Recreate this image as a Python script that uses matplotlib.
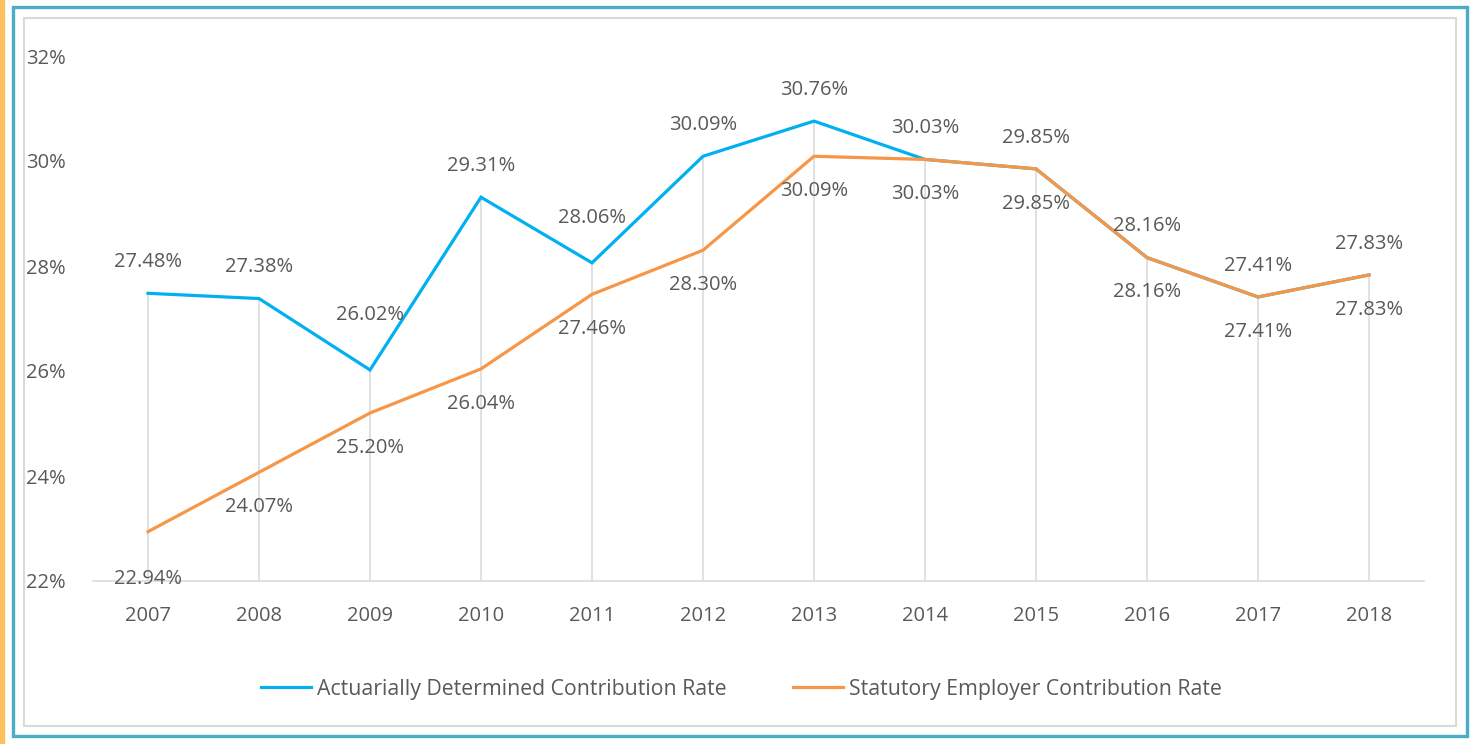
import matplotlib.pyplot as plt
from matplotlib.patches import Rectangle
from matplotlib.lines import Line2D

plt.rcParams['font.family'] = ['Open Sans', 'DejaVu Sans']

years = ["2007", "2008", "2009", "2010", "2011", "2012", "2013", "2014", "2015", "2016", "2017", "2018"]
actuarial = [27.48, 27.38, 26.02, 29.31, 28.06, 30.09, 30.76, 30.03, 29.85, 28.16, 27.41, 27.83]
statutory = [22.94, 24.07, 25.20, 26.04, 27.46, 28.30, 30.09, 30.03, 29.85, 28.16, 27.41, 27.83]
y_ticks = [22, 24, 26, 28, 30, 32]

BLUE = "#00B0F0"
ORANGE = "#F79646"
TEXT = "#595959"
GRID = "#D9D9D9"
W, H = 1483, 744
FS = 14.5

fig = plt.figure(figsize=(W / 100, H / 100), dpi=100)
ax = fig.add_axes([92.5 / W, 1 - 581 / H, (1424.5 - 92.5) / W, (581 - 56) / H])

x = list(range(len(years)))

# drop lines from the higher point down to the axis
for i in x:
    ax.plot([i, i], [22, max(actuarial[i], statutory[i])], color=GRID, lw=1.1, zorder=1)

ax.plot(x, actuarial, color=BLUE, lw=2.3, zorder=3, solid_joinstyle="miter")
ax.plot(x, statutory, color=ORANGE, lw=2.3, zorder=3, solid_joinstyle="miter")

# data labels (a few nudged like in the original)
up_extra = {2: 17, 4: 10}
down_extra = {0: 9}
for i in x:
    ax.annotate(f"{actuarial[i]:.2f}%", (i, actuarial[i]), xytext=(0, 22.5 + up_extra.get(i, 0)),
                textcoords="offset points", ha="center", va="center", fontsize=FS, color=TEXT)
    ax.annotate(f"{statutory[i]:.2f}%", (i, statutory[i]), xytext=(0, -25 - down_extra.get(i, 0)),
                textcoords="offset points", ha="center", va="center", fontsize=FS, color=TEXT)

ax.set_xlim(-0.5, len(years) - 0.5)
ax.set_ylim(22, 32)
ax.set_xticks(x)
ax.set_xticklabels(years)
ax.set_yticks(y_ticks)
ax.set_yticklabels([f"{v}%" for v in y_ticks])
ax.tick_params(axis="both", length=0, labelsize=FS, labelcolor=TEXT)
ax.tick_params(axis="x", pad=18)
ax.tick_params(axis="y", pad=19)
for s in ["top", "right", "left"]:
    ax.spines[s].set_visible(False)
ax.spines["bottom"].set_color(GRID)
ax.spines["bottom"].set_linewidth(1.1)

handles = [Line2D([], [], color=BLUE, lw=2.3), Line2D([], [], color=ORANGE, lw=2.3)]
fig.legend(handles, ["Actuarially Determined Contribution Rate", "Statutory Employer Contribution Rate"],
           loc="center", bbox_to_anchor=(0.5, 1 - 689 / H), ncol=2, frameon=False,
           fontsize=15.3, labelcolor=TEXT, handlelength=2.35, handletextpad=0.28, columnspacing=3.1)

# frame decorations
fig.patches.append(Rectangle((0, 0), 4 / W, 1, transform=fig.transFigure, color="#FDC05E", zorder=0))
fig.patches.append(Rectangle((12.5 / W, 8.5 / H), (1466.5 - 12.5) / W, (737.5 - 8.5) / H,
                             transform=fig.transFigure, fill=False, ec="#4BACC6", lw=2.4, zorder=0))
fig.patches.append(Rectangle((24 / W, 18.5 / H), (1456 - 24) / W, (726.5 - 18.5) / H,
                             transform=fig.transFigure, fill=False, ec=GRID, lw=1.5, zorder=0))

fig.savefig("out.png", dpi=100)
